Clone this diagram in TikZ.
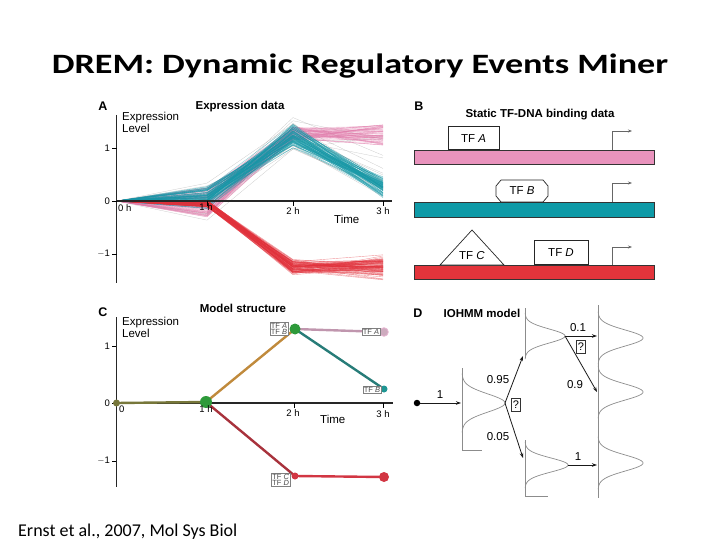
\documentclass[tikz,border=0pt]{standalone}
\usepackage{fontspec}
\setmainfont{Liberation Sans}
\newfontfamily\carlito{Carlito}
\usetikzlibrary{arrows.meta}
\definecolor{pinkbar}{HTML}{E993BD}
\definecolor{tealbar}{HTML}{0E9AA7}
\definecolor{redbar}{HTML}{E3343B}
\definecolor{pinkln}{HTML}{E07AAA}
\definecolor{tealln}{HTML}{1797A6}
\definecolor{redln}{HTML}{E0303A}
\definecolor{olivec}{HTML}{77773A}
\definecolor{tanc}{HTML}{C08A3C}
\definecolor{mauvec}{HTML}{C096AE}
\definecolor{tealc}{HTML}{277C78}
\definecolor{maroonc}{HTML}{A8323C}
\definecolor{redc}{HTML}{D23643}
\definecolor{greenc}{HTML}{2E9A3A}
\begin{document}
\begin{tikzpicture}[x=1pt,y=-1pt,
  lab/.style={font=\fontsize{11.5}{12}\selectfont, inner sep=0pt},
  hdr/.style={font=\bfseries\fontsize{11.5}{12}\selectfont, inner sep=0pt},
  panel/.style={font=\bfseries\fontsize{12.5}{13}\selectfont, inner sep=0pt},
  tick/.style={font=\fontsize{9.5}{10}\selectfont, inner sep=0pt},
  axisln/.style={line width=1.1pt, black!85},
  pinkline/.style={pinkln, line width=0.4pt, opacity=0.45},
  tealline/.style={tealln, line width=0.4pt, opacity=0.5},
  redline/.style={redln, line width=0.4pt, opacity=0.5},
  greyline/.style={black!40, line width=0.3pt, opacity=0.5},
  bar/.style={draw=black!80, line width=0.5pt},
  tfbox/.style={draw=black!85, fill=white, line width=0.7pt, font=\fontsize{11.5}{12}\selectfont, inner sep=0pt},
  tss/.style={draw=black!60, line width=0.6pt, -{Stealth[length=4pt,width=3pt]}},
  cline/.style={line width=2.4pt},
  dot/.style={circle, inner sep=0pt},
  minitf/.style={draw=black!50, fill=white, line width=0.4pt, font=\fontsize{7.5}{7.5}\selectfont, inner sep=0.8pt, align=left, text=black!70},
  gauss/.style={black!45, line width=0.7pt},
  darr/.style={black!90, line width=0.8pt, -{Stealth[length=5pt,width=3.5pt]}},
  qbox/.style={draw=black!80, line width=0.6pt, fill=white, font=\fontsize{11}{11}\selectfont, inner xsep=1.3pt, inner ysep=2.5pt}
]
\useasboundingbox (0,0) rectangle (720,540);

% Title
\node[font=\carlito\bfseries\fontsize{28}{32}\selectfont, anchor=base, inner sep=0pt] (title) at (360,74) {\scalebox{1.29}[1]{DREM: Dynamic Regulatory Events Miner}};
\node[font=\carlito\fontsize{18}{20}\selectfont, anchor=base west, inner sep=0pt] (cite) at (18,536) {Ernst et al., 2007, Mol Sys Biol};

% ================= Panel A =================
\pgfmathsetseed{7}
\foreach \i in {1,...,14}{
  \pgfmathsetmacro\ya{201-53*(-0.45+0.8*rnd)}
  \pgfmathsetmacro\yb{201-53*(0.9+0.7*rnd)}
  \pgfmathsetmacro\yc{201-53*(0.0+1.4*rnd)}
  \draw[greyline] (116.5,201) -- (207,\ya) -- (293,\yb) -- (383,\yc);
}
\foreach \i in {1,...,70}{
  \pgfmathsetmacro\ya{201-53*(-0.3+0.55*rnd)}
  \pgfmathsetmacro\yb{201-53*(1.15+0.25*rnd)}
  \pgfmathsetmacro\yc{201-53*(1.05+0.4*rnd)}
  \draw[pinkline] (116.5,201) -- (207,\ya) -- (293,\yb) -- (383,\yc);
}
\foreach \i in {1,...,90}{
  \pgfmathsetmacro\ya{201-53*(-0.22+0.5*(rnd+rnd)/2+0.1*rnd)}
  \pgfmathsetmacro\yb{201-53*(0.95+0.55*(rnd+rnd)/2)}
  \pgfmathsetmacro\yc{201-53*(0.05+0.45*(rnd+rnd)/2)}
  \draw[tealline] (116.5,201) -- (207,\ya) -- (293,\yb) -- (383,\yc);
}
\foreach \i in {1,...,90}{
  \pgfmathsetmacro\ya{201-53*(-0.12+0.14*rnd)}
  \pgfmathsetmacro\yb{201-53*(-1.08-0.32*(rnd+rnd)/2)}
  \pgfmathsetmacro\yc{201-53*(-1.0-0.5*(rnd+rnd)/2)}
  \draw[redline] (116.5,201) -- (207,\ya) -- (293,\yb) -- (383,\yc);
}
% axes
\coordinate (aytop) at (116.5,115);
\coordinate (aybot) at (116.5,283);
\coordinate (axl) at (116.5,201);
\coordinate (axr) at (392,201);
\draw[axisln] (aytop) -- (aybot);
\draw[axisln] (axl) -- (axr);
\foreach \y/\t in {148/1, 201/0, 254/{$-$1}}{
  \draw[line width=0.9pt] (112,\y) -- (116.5,\y);
  \node[tick, anchor=east] at (110,\y) {\t};
}
\foreach \x in {207,293,383}{\draw[line width=0.9pt] (\x,201) -- (\x,206);}
\node[tick, anchor=north west] (a0h) at (118,204) {0 h};
\node[tick, anchor=north] (a1h) at (206,203) {1 h};
\node[tick, anchor=north] (a2h) at (293,207) {2 h};
\node[tick, anchor=north] (a3h) at (383,207) {3 h};
\node[lab, anchor=base west] (atime) at (334,224) {Time};
\node[lab, anchor=north west, align=left] (aexpr) at (122,112) {Expression\\Level};
\node[hdr] (ahdr) at (240,107) {Expression data};
\node[panel] (pa) at (103,106) {A};

% ================= Panel B =================
\node[panel] (pb) at (419,106) {B};
\node[hdr] (bhdr) at (540,115) {Static TF-DNA binding data};
% pink
\draw[bar, fill=pinkbar] (414,150) rectangle (654,164);
\node[tfbox, minimum width=51pt, minimum height=23pt, anchor=south] (tfa) at (473.5,150) {TF \textit{A}};
\coordinate (p1) at (612,150);
\coordinate (q1) at (632,131);
\draw[tss] (p1) |- (q1);
% teal
\draw[bar, fill=tealbar] (414,202) rectangle (654,217);
\draw[draw=black!85, fill=white, line width=0.7pt] (501,180) -- (543,180) -- (548,186) -- (548,196) -- (543,202) -- (501,202) -- (496,196) -- (496,186) -- cycle;
\node[lab] (tfb) at (522,191) {TF \textit{B}};
\coordinate (p2) at (612,202);
\coordinate (q2) at (632,183);
\draw[tss] (p2) |- (q2);
% red
\draw[bar, fill=redbar] (414,265) rectangle (654,279);
\draw[draw=black!85, fill=white, line width=0.7pt] (440,265) -- (472,230) -- (504,265) -- cycle;
\node[lab] (tfc) at (472,256) {TF \textit{C}};
\node[tfbox, minimum width=54pt, minimum height=24pt, anchor=south] (tfd) at (561,265) {TF \textit{D}};
\coordinate (p3) at (612,265);
\coordinate (q3) at (632,247);
\draw[tss] (p3) |- (q3);

% ================= Panel C =================
\node[panel] (pc) at (103,312) {C};
\node[hdr] (chdr) at (243,308) {Model structure};
\node[lab, anchor=north west, align=left] (cexpr) at (122,317) {Expression\\Level};
\coordinate (cytop) at (116.5,317);
\coordinate (cybot) at (116.5,487);
\coordinate (cxr) at (393,403);
\foreach \y/\t in {346/1, 403/0, 461/{$-$1}}{
  \draw[line width=0.9pt] (112,\y) -- (116.5,\y);
  \node[tick, anchor=east] at (110,\y) {\t};
}
\node[dot, minimum size=7pt] (c0) at (116.5,403) {};
\node[dot, minimum size=12pt] (c1) at (206,402) {};
\node[dot, minimum size=11pt] (c2a) at (295,329) {};
\node[dot, minimum size=9pt] (c3a) at (384,332) {};
\node[dot, minimum size=7pt] (c3b) at (384,389) {};
\node[dot, minimum size=7pt] (c2b) at (295,476) {};
\node[dot, minimum size=10pt] (c3c) at (384,477) {};
\draw[axisln] (cytop) -- (cybot);
\draw[axisln] (c0.center) -- (cxr);
\foreach \x in {206,294,383}{\draw[line width=0.9pt] (\x,403) -- (\x,408);}
\draw[cline, olivec] (c0.center) -- (c1.center);
\draw[cline, tanc] (c1.center) -- (c2a.center);
\draw[cline, mauvec] (c2a.center) -- (c3a.center);
\draw[cline, tealc] (c2a.center) -- (c3b.center);
\draw[cline, maroonc] (c1.center) -- (c2b.center);
\draw[cline, redc] (c2b.center) -- (c3c.center);
\fill[olivec] (c0) circle[radius=3.5pt];
\fill[greenc] (c1) circle[radius=6pt];
\fill[greenc] (c2a) circle[radius=5.5pt];
\filldraw[fill=mauvec!80, draw=mauvec!120!black, line width=0.8pt] (c3a) circle[radius=4.3pt];
\fill[tealc!80!cyan] (c3b) circle[radius=3.5pt];
\fill[redc] (c2b) circle[radius=3.5pt];
\fill[redc] (c3c) circle[radius=5pt];
\node[tick, anchor=north west] (c0h) at (119,406) {0};
\node[tick, anchor=north] (c1h) at (206,405) {1 h};
\node[tick, anchor=north] (c2h) at (293,409) {2 h};
\node[tick, anchor=north] (c3h) at (383,410) {3 h};
\node[lab, anchor=base west] (ctime) at (320,423) {Time};
\node[minitf, anchor=east] (lab2a) at (288,329) {TF \textit{A}\\[-1pt]TF \textit{B}};
\node[minitf, anchor=east] (lab3a) at (380,332) {TF \textit{A}};
\node[minitf, anchor=east] (lab3b) at (381,390) {TF \textit{B}};
\node[minitf, anchor=east] (lab2b) at (290,480) {TF \textit{C}\\[-1pt]TF \textit{D}};

% ================= Panel D =================
\node[panel] (pd) at (418,313) {D};
\node[hdr] (dhdr) at (482,313) {IOHMM model};
% column 1
\draw[gauss] (462,368) -- (462,450) -- (482,450);
\draw[gauss, domain=-3.3:3.3, samples=60, variable=\t] plot ({462+43*exp(-\t*\t/2)}, {403+9*\t});
% column 2
\draw[gauss] (525,308) -- (525,358);
\draw[gauss, domain=-3.3:3.3, samples=60, variable=\t] plot ({525+40*exp(-\t*\t/2)}, {336+7*\t});
\draw[gauss] (525,440) -- (525,496) -- (548,496);
\draw[gauss, domain=-3.3:3.3, samples=60, variable=\t] plot ({525+43*exp(-\t*\t/2)}, {465+7*\t});
% column 3
\draw[gauss] (598,305) -- (598,498);
\foreach \yc in {338,392,463}{
  \draw[gauss, domain=-3.3:3.3, samples=60, variable=\t] plot ({598+45*exp(-\t*\t/2)}, {\yc+8*\t});
}
\node[dot, fill=black, minimum size=6.5pt] (d0) at (417,403) {};
\coordinate (d1in) at (461,403);
\coordinate (d1) at (505,403);
\coordinate (d2top) at (523,356);
\coordinate (d2bot) at (523,458);
\coordinate (d2a) at (565,336);
\coordinate (d2b) at (568,465);
\coordinate (d3a) at (597,336);
\coordinate (d3b) at (597,392);
\coordinate (d3c) at (597,465);
\draw[darr] (d0) -- (d1in);
\draw[darr] (d1) -- (d2top);
\draw[darr] (d1) -- (d2bot);
\draw[darr] (d2a) -- (d3a);
\draw[darr] (d2a) -- (d3b);
\draw[darr] (d2b) -- (d3c);
\node[lab] (l1) at (440,395) {1};
\node[lab] (l095) at (498,380) {0.95};
\node[lab] (l005) at (498,437) {0.05};
\node[lab] (l01) at (578,328) {0.1};
\node[lab] (l09) at (575,385) {0.9};
\node[lab] (l1b) at (578,457) {1};
\node[qbox] (q1b) at (516,405) {?};
\node[qbox] (q2b) at (581,347) {?};
\end{tikzpicture}
\end{document}
